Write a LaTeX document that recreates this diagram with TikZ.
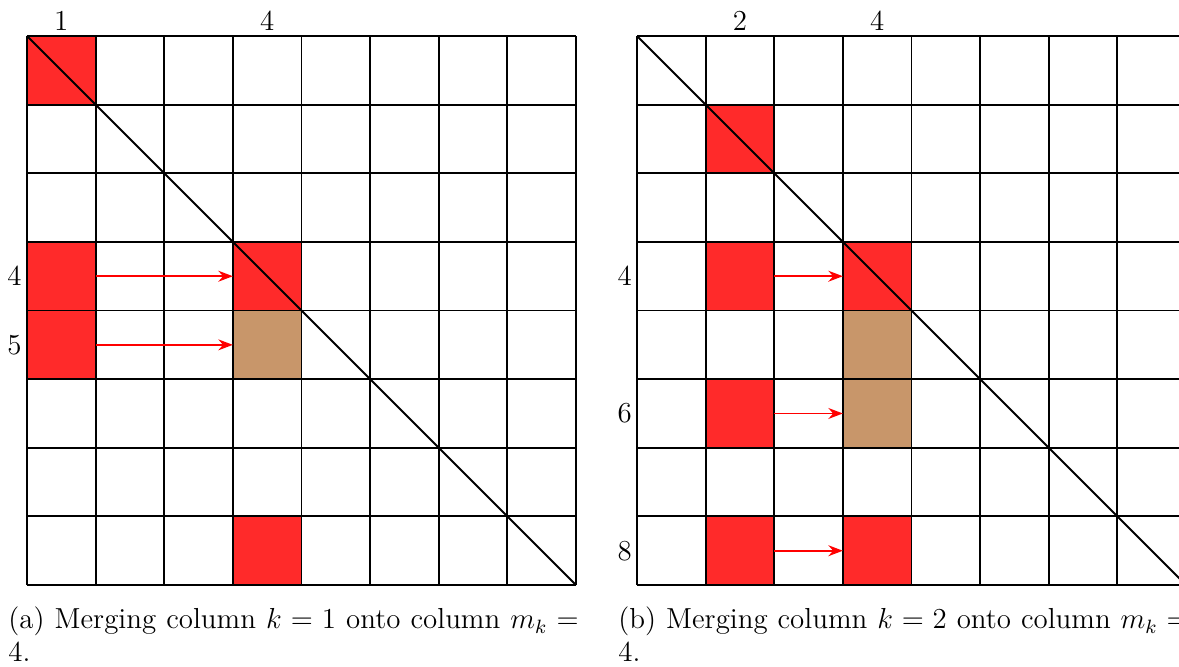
\documentclass[tikz,border=0pt]{standalone}
\usepackage{amsmath}
\usetikzlibrary{positioning, arrows.meta, calc}
\definecolor{cellred}{RGB}{255,42,42}
\definecolor{celltan}{RGB}{200,150,106}

\begin{document}
\begin{tikzpicture}[
  cell/.style={minimum size=1cm, inner sep=0pt, outer sep=0pt},
  merge/.style={red, line width=0.8pt, -{Stealth[length=6pt, width=4.5pt]}},
  lbl/.style={font=\fontsize{12}{13.6}\selectfont, inner sep=1pt},
  subcap/.style={lbl, inner sep=0pt, anchor=base west, text width=8.31cm, align=justify},
]
\useasboundingbox (-0.393,0.525) rectangle (16.787,-9.180);

% (a) column 1 onto column 4
\foreach \c/\r/\col in {1/1/cellred, 1/4/cellred, 1/5/cellred, 4/4/cellred,
                        4/5/celltan, 4/8/cellred}
  \node[cell, fill=\col] (a\c\r) at (\c-0.5, 0.5-\r) {};
\draw[line width=0.8pt] (0,0) grid (8,-8);
\draw[line width=0.8pt] (0,0) -- (8,-8);
\draw[merge] (a14.east) -- (a44.west);
\draw[merge] (a15.east) -- (a45.west);
\node[lbl, above=1pt] (acol1) at (0.5,0) {1};
\node[lbl, above=1pt] (acol4) at (3.5,0) {4};
\node[lbl, left=1pt] (arow4) at (0,-3.5) {4};
\node[lbl, left=1pt] (arow5) at (0,-4.5) {5};
\node[subcap] (capa) at (-0.277,-8.64)
  {(a) Merging column $k=1$ onto column $m_k=$ 4.};

% (b) column 2 onto column 4
\begin{scope}[xshift=8.889cm]
\foreach \c/\r/\col in {2/2/cellred, 2/4/cellred, 4/4/cellred, 2/6/cellred,
                        2/8/cellred, 4/5/celltan, 4/6/celltan, 4/8/cellred}
  \node[cell, fill=\col] (b\c\r) at (\c-0.5, 0.5-\r) {};
\draw[line width=0.8pt] (0,0) grid (8,-8);
\draw[line width=0.8pt] (0,0) -- (8,-8);
\draw[merge] (b24.east) -- (b44.west);
\draw[merge] (b26.east) -- (b46.west);
\draw[merge] (b28.east) -- (b48.west);
\node[lbl, above=1pt] (bcol2) at (1.5,0) {2};
\node[lbl, above=1pt] (bcol4) at (3.5,0) {4};
\node[lbl, left=1pt] (brow4) at (0,-3.5) {4};
\node[lbl, left=1pt] (brow6) at (0,-5.5) {6};
\node[lbl, left=1pt] (brow8) at (0,-7.5) {8};
\node[subcap] (capb) at (-0.277,-8.64)
  {(b) Merging column $k=2$ onto column $m_k=$ 4.};
\end{scope}
\end{tikzpicture}
\end{document}
